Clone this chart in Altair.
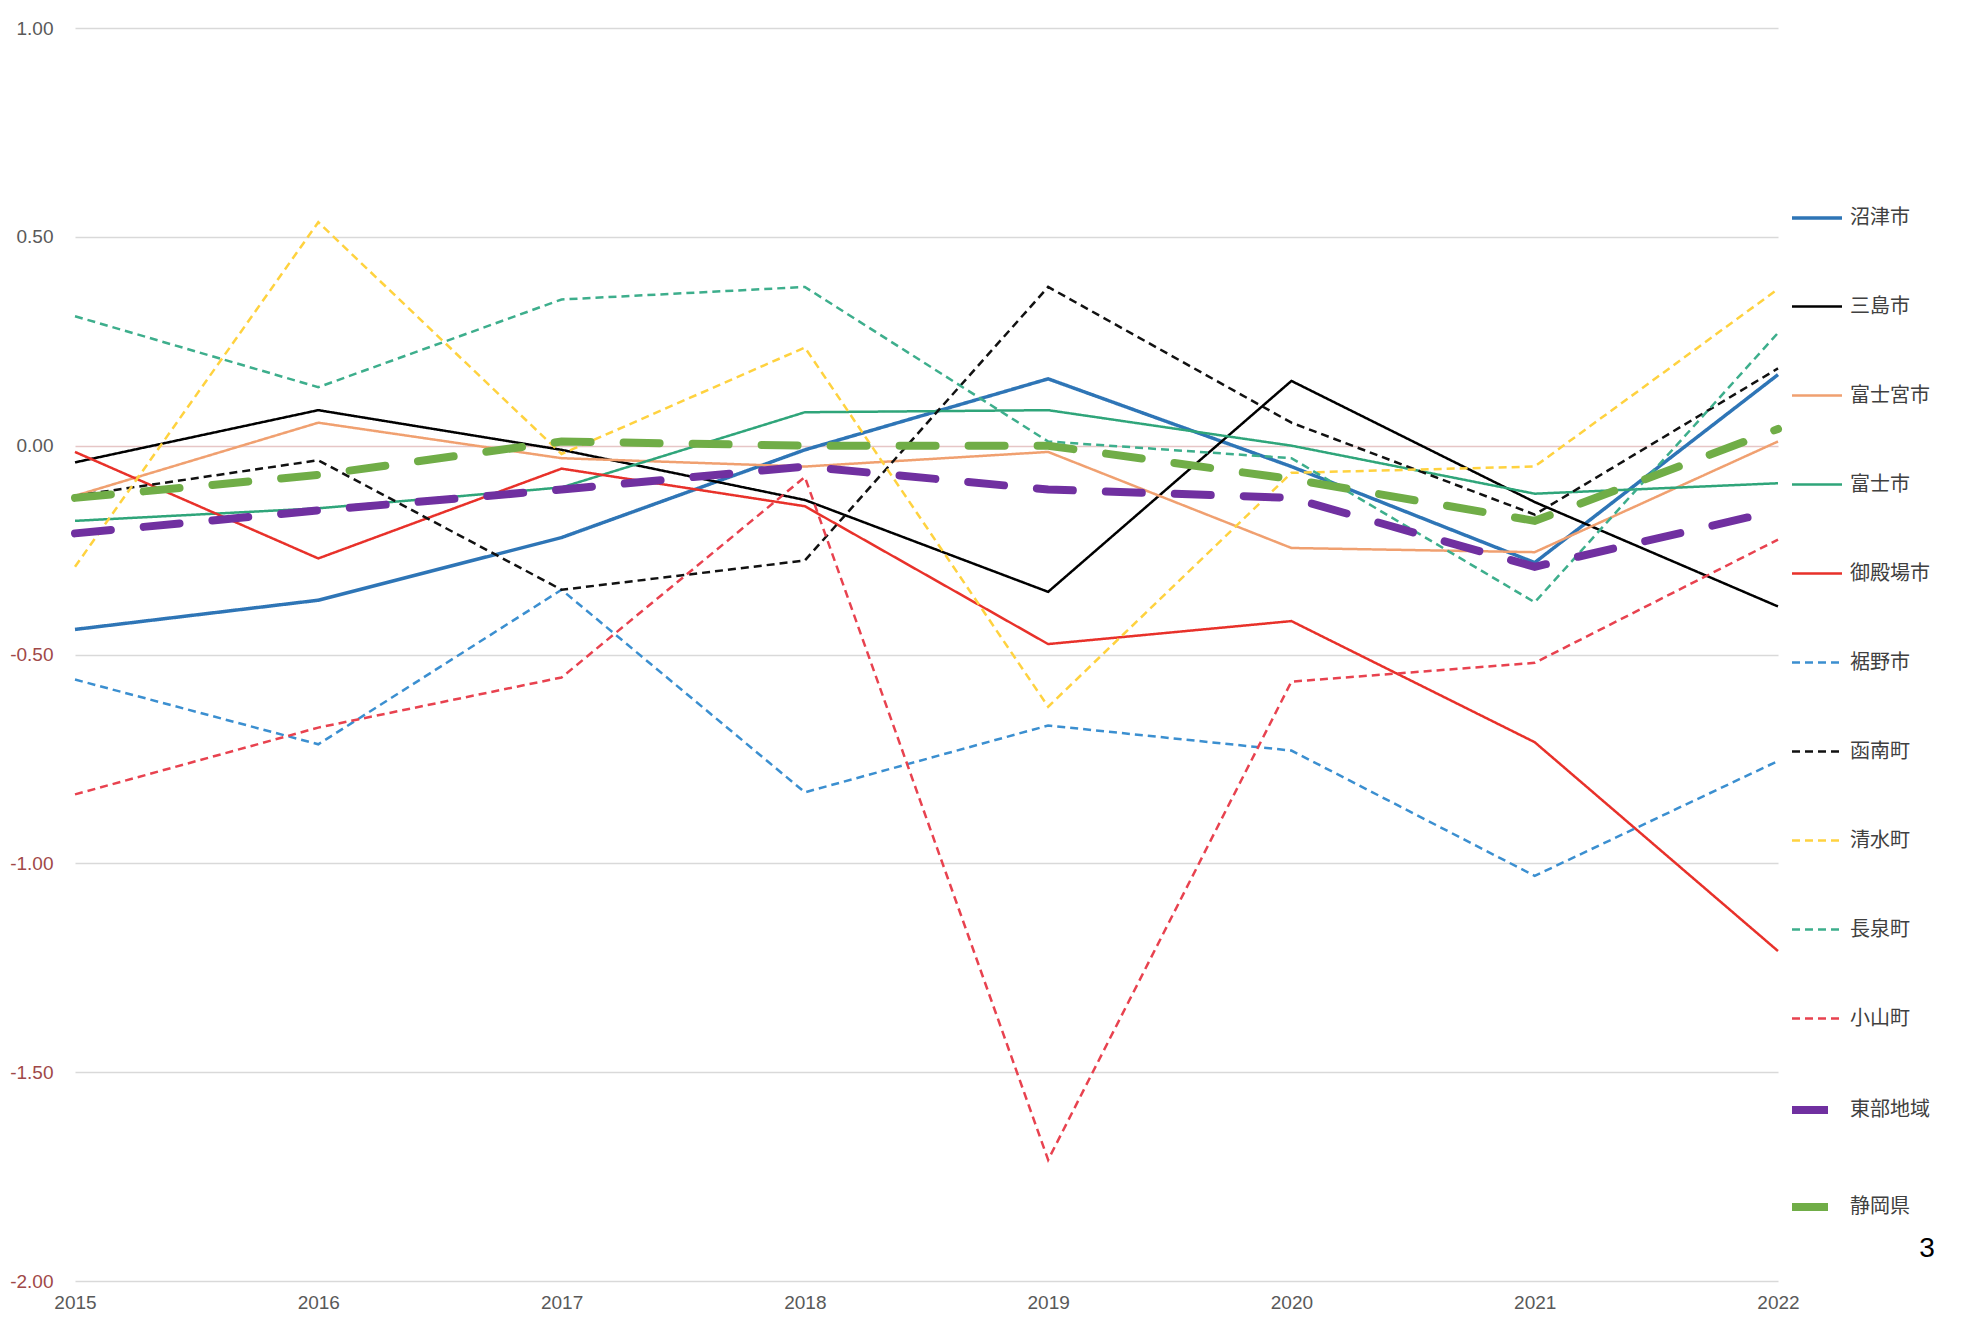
import altair as alt
import pandas as pd

years = [2015, 2016, 2017, 2018, 2019, 2020, 2021, 2022]

names = ["沼津市", "三島市", "富士宮市", "富士市", "御殿場市", "裾野市",
         "函南町", "清水町", "長泉町", "小山町", "東部地域", "静岡県"]

numazu    = [-0.44, -0.37, -0.22, -0.01, 0.16, -0.05, -0.28, 0.17]
mishima   = [-0.04, 0.085, -0.01, -0.13, -0.35, 0.155, -0.135, -0.385]
fujinomiya = [-0.12, 0.055, -0.03, -0.05, -0.015, -0.245, -0.255, 0.01]
fuji      = [-0.18, -0.15, -0.10, 0.08, 0.085, 0.0, -0.115, -0.09]
gotemba   = [-0.015, -0.27, -0.055, -0.145, -0.475, -0.42, -0.71, -1.21]
susono    = [-0.56, -0.715, -0.345, -0.83, -0.67, -0.73, -1.03, -0.755]
kannami   = [-0.12, -0.035, -0.345, -0.275, 0.38, 0.055, -0.165, 0.185]
shimizu   = [-0.29, 0.535, -0.02, 0.235, -0.625, -0.065, -0.05, 0.375]
nagaizumi = [0.31, 0.14, 0.35, 0.38, 0.01, -0.03, -0.375, 0.27]
oyama     = [-0.835, -0.675, -0.555, -0.075, -1.71, -0.565, -0.52, -0.225]
tobu      = [-0.21, -0.155, -0.105, -0.05, -0.105, -0.125, -0.29, -0.155]
shizuoka  = [-0.125, -0.07, 0.01, 0.0, 0.0, -0.08, -0.18, 0.04]

series_values = [numazu, mishima, fujinomiya, fuji, gotemba, susono,
                 kannami, shimizu, nagaizumi, oyama, tobu, shizuoka]

colors = ["#2E75B6", "#000000", "#F0A070", "#2FA57A", "#E8312A", "#3B8FD0",
          "#111111", "#FFD23F", "#3DAE8C", "#E8424F", "#7030A0", "#70AD47"]
widths = [3.5, 2.5, 2.5, 2.5, 2.5, 2.5, 2.5, 2.5, 2.5, 2.5, 8, 8]
solid = [1, 0]
dash = [8, 5]
thick = [36, 33]
dashes = [solid, solid, solid, solid, solid, dash, dash, dash, dash, dash, thick, thick]
thick_names = ["東部地域", "静岡県"]

y_ticks = [1.0, 0.5, 0.0, -0.5, -1.0, -1.5, -2.0]

rows = []
for n, vals in zip(names, series_values):
    for yr, v in zip(years, vals):
        rows.append({"year": yr, "value": v, "series": n})
df = pd.DataFrame(rows)

legend = alt.Legend(
    title=None, orient="none", legendX=1713, legendY=163,
    symbolType="stroke", symbolSize=2500, labelFontSize=20,
    labelFont="Noto Sans CJK JP", labelColor="#404040", labelOffset=4,
    rowPadding=52, labelLimit=300,
)

enc = dict(
    x=alt.X("year:Q", title=None,
            scale=alt.Scale(domain=[2015, 2022], nice=False, zero=False),
            axis=alt.Axis(values=years, format="d", grid=False, domain=False, ticks=False,
                          labelFlush=False, labelBound=False,
                          labelFontSize=19, labelColor="#595959", labelPadding=12,
                          labelFont="Liberation Sans")),
    y=alt.Y("value:Q", title=None,
            scale=alt.Scale(domain=[-2, 1], nice=False, zero=False),
            axis=alt.Axis(values=y_ticks, format=".2f", domain=False, ticks=False,
                          labelFontSize=19, labelPadding=22, labelFont="Liberation Sans",
                          labelExpr="replace(datum.label, '\u2212', '-')",
                          labelColor=alt.condition("datum.value < 0", alt.value("#A04848"), alt.value("#595959")),
                          gridColor=alt.condition("datum.value == 0", alt.value("#E6C6C6"), alt.value("#D9D9D9")),
                          gridWidth=1.5)),
    color=alt.Color("series:N", scale=alt.Scale(domain=names, range=colors), sort=names, legend=legend),
    strokeDash=alt.StrokeDash("series:N", scale=alt.Scale(domain=names, range=dashes), sort=names),
    strokeWidth=alt.StrokeWidth("series:N", scale=alt.Scale(type="ordinal", domain=names, range=widths), sort=names),
)

thin_layer = alt.Chart(df).transform_filter(
    alt.FieldOneOfPredicate(field="series", oneOf=[n for n in names if n not in thick_names])
).mark_line(strokeCap="butt").encode(**enc)

thick_layer = alt.Chart(df).transform_filter(
    alt.FieldOneOfPredicate(field="series", oneOf=thick_names)
).mark_line(strokeCap="round").encode(**enc)

page_no = alt.Chart(pd.DataFrame({"t": ["3"]})).mark_text(
    fontSize=28, font="Liberation Sans", color="#000000", align="center", baseline="middle"
).encode(text="t:N", x=alt.value(1852), y=alt.value(1221))

chart = alt.layer(thin_layer, thick_layer, page_no).properties(
    width=1703, height=1253,
    background="white",
    autosize=alt.AutoSizeParams(type="none"),
    padding={"left": 67, "top": 20, "right": 180, "bottom": 31},
).configure_view(stroke=None)

chart.save("out.html", embed_options={"renderer": "svg", "actions": False})
